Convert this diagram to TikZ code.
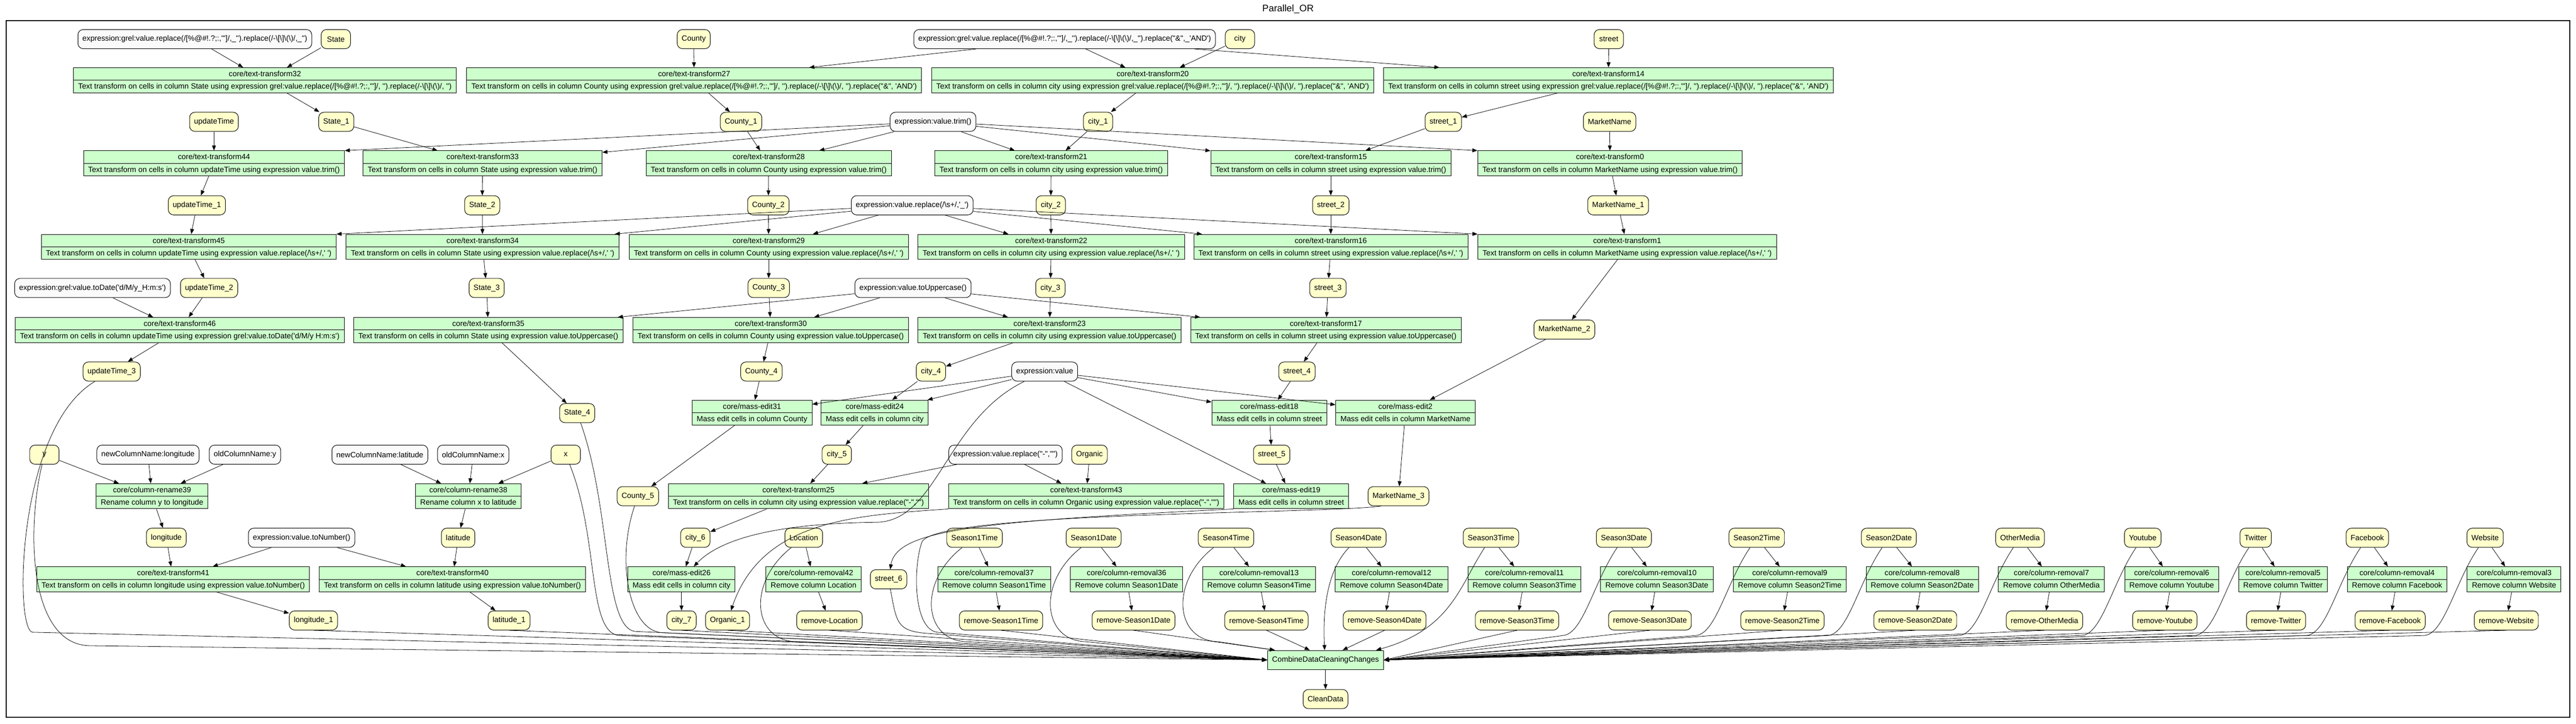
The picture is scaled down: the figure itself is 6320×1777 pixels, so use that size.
\documentclass[tikz,border=0pt]{standalone}
\usepackage{fontspec}
\newfontfamily\gvfont{Liberation Sans}
\usetikzlibrary{arrows.meta,shapes.multipart}

\definecolor{colfill}{HTML}{FFFFCC}
\definecolor{stepfill}{HTML}{CCFFCC}
\definecolor{parfill}{HTML}{FAFAFA}

\newcommand{\rowstrut}{\rule[-1.75mm]{0pt}{5.9mm}}
\newcommand{\grelclean}{grel:value.replace(/[\%@\#!.?;:,'"]/, '').replace(/-\textbackslash[\textbackslash]\textbackslash(\textbackslash)/, '')}
\newcommand{\grelamp}{.replace("\&", 'AND')}
\newcommand{\grelparam}{expression:grel:value.replace(/[\%@\#!.?;:,'"]/,\_'').replace(/-\textbackslash[\textbackslash]\textbackslash(\textbackslash)/,\_'')}
\newcommand{\grelampparam}{.replace("\&",\_'AND')}

\tikzset{
  colnode/.style={draw, rounded corners=2.6mm, fill=colfill, line width=0.25mm,
    minimum height=9.4mm, minimum width=14.4mm, inner xsep=2.2mm,
    font=\gvfont\fontsize{10.6}{12.7}\selectfont},
  paramnode/.style={colnode, fill=parfill},
  stepbox/.style={draw, rectangle split, rectangle split parts=2, fill=stepfill,
    line width=0.25mm, inner xsep=2.3mm, inner ysep=0pt,
    font=\gvfont\fontsize{10.6}{12.7}\selectfont},
  mergebox/.style={draw, fill=stepfill, line width=0.25mm, minimum height=9.4mm,
    inner xsep=2.3mm, font=\gvfont\fontsize{10.6}{12.7}\selectfont},
  flow/.style={-{Triangle[length=2.5mm,width=1.9mm]}, line width=0.2mm}
}

\begin{document}
\begin{tikzpicture}[x=0.2mm, y=-0.2mm]
    \useasboundingbox (0,0) rectangle (6320,1777);
    \node[font=\gvfont\fontsize{13.3}{16}\selectfont] (title) at (3160,22) {Parallel\_OR};
    \draw[line width=0.5mm] (15,50) rectangle (6305,1761);

    % punctuation clean-up
    \node[paramnode] (pclean) at (478,96) {\grelparam};
    \node[colnode] (state) at (824,96) {State};
    \node[colnode] (county) at (1702,96) {County};
    \node[paramnode] (pcleanamp) at (2612,96) {\grelparam\grelampparam};
    \node[colnode] (city) at (3042,96) {city};
    \node[colnode] (street) at (3947,96) {street};
    \node[stepbox] (tt32) at (650,197) {\rowstrut core/text-transform32\nodepart{two}\rowstrut Text transform on cells in column State using expression \grelclean};
    \node[stepbox] (tt27) at (1703,197) {\rowstrut core/text-transform27\nodepart{two}\rowstrut Text transform on cells in column County using expression \grelclean\grelamp};
    \node[stepbox] (tt20) at (2828,197) {\rowstrut core/text-transform20\nodepart{two}\rowstrut Text transform on cells in column city using expression \grelclean\grelamp};
    \node[stepbox] (tt14) at (3946,197) {\rowstrut core/text-transform14\nodepart{two}\rowstrut Text transform on cells in column street using expression \grelclean\grelamp};

    % trim
    \node[colnode] (updatetime) at (525,299) {updateTime};
    \node[colnode] (state1) at (825,299) {State\_1};
    \node[colnode] (county1) at (1818,299) {County\_1};
    \node[paramnode] (ptrim) at (2289,299) {expression:value.trim()};
    \node[colnode] (city1) at (2694,299) {city\_1};
    \node[colnode] (street1) at (3541,299) {street\_1};
    \node[colnode] (marketname) at (3949,299) {MarketName};
    \node[stepbox] (tt44) at (525,401) {\rowstrut core/text-transform44\nodepart{two}\rowstrut Text transform on cells in column updateTime using expression value.trim()};
    \node[stepbox] (tt33) at (1184,401) {\rowstrut core/text-transform33\nodepart{two}\rowstrut Text transform on cells in column State using expression value.trim()};
    \node[stepbox] (tt28) at (1886,401) {\rowstrut core/text-transform28\nodepart{two}\rowstrut Text transform on cells in column County using expression value.trim()};
    \node[stepbox] (tt21) at (2579,401) {\rowstrut core/text-transform21\nodepart{two}\rowstrut Text transform on cells in column city using expression value.trim()};
    \node[stepbox] (tt15) at (3265,401) {\rowstrut core/text-transform15\nodepart{two}\rowstrut Text transform on cells in column street using expression value.trim()};
    \node[stepbox] (tt0) at (3950,401) {\rowstrut core/text-transform0\nodepart{two}\rowstrut Text transform on cells in column MarketName using expression value.trim()};

    % collapse whitespace
    \node[colnode] (updatetime1) at (483,504) {updateTime\_1};
    \node[colnode] (state2) at (1183,504) {State\_2};
    \node[colnode] (county2) at (1885,504) {County\_2};
    \node[paramnode] (pspace) at (2238,504) {expression:value.replace(/\textbackslash s+/,'\_')};
    \node[colnode] (city2) at (2578,504) {city\_2};
    \node[colnode] (street2) at (3265,504) {street\_2};
    \node[colnode] (marketname1) at (3970,504) {MarketName\_1};
    \node[stepbox] (tt45) at (463,606) {\rowstrut core/text-transform45\nodepart{two}\rowstrut Text transform on cells in column updateTime using expression value.replace(/\textbackslash s+/,' ')};
    \node[stepbox] (tt34) at (1184,606) {\rowstrut core/text-transform34\nodepart{two}\rowstrut Text transform on cells in column State using expression value.replace(/\textbackslash s+/,' ')};
    \node[stepbox] (tt29) at (1886,606) {\rowstrut core/text-transform29\nodepart{two}\rowstrut Text transform on cells in column County using expression value.replace(/\textbackslash s+/,' ')};
    \node[stepbox] (tt22) at (2579,606) {\rowstrut core/text-transform22\nodepart{two}\rowstrut Text transform on cells in column city using expression value.replace(/\textbackslash s+/,' ')};
    \node[stepbox] (tt16) at (3265,606) {\rowstrut core/text-transform16\nodepart{two}\rowstrut Text transform on cells in column street using expression value.replace(/\textbackslash s+/,' ')};
    \node[stepbox] (tt1) at (3992,606) {\rowstrut core/text-transform1\nodepart{two}\rowstrut Text transform on cells in column MarketName using expression value.replace(/\textbackslash s+/,' ')};

    % dates and upper case
    \node[paramnode] (pdate) at (227,707) {expression:grel:value.toDate('d/M/y\_H:m:s')};
    \node[colnode] (updatetime2) at (513,707) {updateTime\_2};
    \node[colnode] (state3) at (1194,707) {State\_3};
    \node[colnode] (county3) at (1886,707) {County\_3};
    \node[paramnode] (pupper) at (2240,707) {expression:value.toUppercase()};
    \node[colnode] (city3) at (2577,707) {city\_3};
    \node[colnode] (street3) at (3258,707) {street\_3};
    \node[stepbox] (tt46) at (441,810) {\rowstrut core/text-transform46\nodepart{two}\rowstrut Text transform on cells in column updateTime using expression grel:value.toDate('d/M/y H:m:s')};
    \node[stepbox] (tt35) at (1198,810) {\rowstrut core/text-transform35\nodepart{two}\rowstrut Text transform on cells in column State using expression value.toUppercase()};
    \node[stepbox] (tt30) at (1891,810) {\rowstrut core/text-transform30\nodepart{two}\rowstrut Text transform on cells in column County using expression value.toUppercase()};
    \node[stepbox] (tt23) at (2575,810) {\rowstrut core/text-transform23\nodepart{two}\rowstrut Text transform on cells in column city using expression value.toUppercase()};
    \node[stepbox] (tt17) at (3253,810) {\rowstrut core/text-transform17\nodepart{two}\rowstrut Text transform on cells in column street using expression value.toUppercase()};
    \node[colnode] (marketname2) at (3838,809) {MarketName\_2};

    % mass edits
    \node[colnode] (updatetime3) at (274,912) {updateTime\_3};
    \node[colnode] (county4) at (1868,912) {County\_4};
    \node[colnode] (city4) at (2284,912) {city\_4};
    \node[paramnode] (pvalue) at (2563,912) {expression:value};
    \node[colnode] (street4) at (3182,912) {street\_4};
    \node[colnode] (state4) at (1416,1014) {State\_4};
    \node[stepbox] (me31) at (1845,1013) {\rowstrut core/mass-edit31\nodepart{two}\rowstrut Mass edit cells in column County};
    \node[stepbox] (me24) at (2146,1013) {\rowstrut core/mass-edit24\nodepart{two}\rowstrut Mass edit cells in column city};
    \node[stepbox] (me18) at (3114,1013) {\rowstrut core/mass-edit18\nodepart{two}\rowstrut Mass edit cells in column street};
    \node[stepbox] (me2) at (3448,1013) {\rowstrut core/mass-edit2\nodepart{two}\rowstrut Mass edit cells in column MarketName};

    % renames and dashes
    \node[colnode] (coly) at (109,1116) {y};
    \node[paramnode] (pnewlon) at (363,1116) {newColumnName:longitude};
    \node[paramnode] (poldy) at (601,1116) {oldColumnName:y};
    \node[paramnode] (pnewlat) at (932,1116) {newColumnName:latitude};
    \node[paramnode] (poldx) at (1161,1116) {oldColumnName:x};
    \node[colnode] (colx) at (1388,1116) {x};
    \node[colnode] (city5) at (2053,1116) {city\_5};
    \node[paramnode] (pdash) at (2467,1116) {expression:value.replace("-","")};
    \node[colnode] (organic) at (2673,1116) {Organic};
    \node[colnode] (street5) at (3120,1116) {street\_5};
    \node[stepbox] (cr39) at (373,1218) {\rowstrut core/column-rename39\nodepart{two}\rowstrut Rename column y to longitude};
    \node[stepbox] (cr38) at (1149,1218) {\rowstrut core/column-rename38\nodepart{two}\rowstrut Rename column x to latitude};
    \node[colnode] (county5) at (1565,1218) {County\_5};
    \node[stepbox] (tt25) at (1959,1218) {\rowstrut core/text-transform25\nodepart{two}\rowstrut Text transform on cells in column city using expression value.replace("-","")};
    \node[stepbox] (tt43) at (2665,1218) {\rowstrut core/text-transform43\nodepart{two}\rowstrut Text transform on cells in column Organic using expression value.replace("-","")};
    \node[stepbox] (me19) at (3168,1218) {\rowstrut core/mass-edit19\nodepart{two}\rowstrut Mass edit cells in column street};
    \node[colnode] (marketname3) at (3431,1218) {MarketName\_3};

    % numbers
    \node[colnode] (longitude) at (408,1320) {longitude};
    \node[paramnode] (pnum) at (740,1320) {expression:value.toNumber()};
    \node[colnode] (latitude) at (1124,1320) {latitude};
    \node[colnode] (city6) at (1706,1320) {city\_6};
    \node[stepbox] (tt41) at (425,1422) {\rowstrut core/text-transform41\nodepart{two}\rowstrut Text transform on cells in column longitude using expression value.toNumber()};
    \node[stepbox] (tt40) at (1110,1422) {\rowstrut core/text-transform40\nodepart{two}\rowstrut Text transform on cells in column latitude using expression value.toNumber()};
    \node[stepbox] (me26) at (1672,1422) {\rowstrut core/mass-edit26\nodepart{two}\rowstrut Mass edit cells in column city};
    \node[colnode] (street6) at (2180,1422) {street\_6};
    \node[colnode] (longitude1) at (769,1523) {longitude\_1};
    \node[colnode] (latitude1) at (1249,1523) {latitude\_1};
    \node[colnode] (city7) at (1672,1523) {city\_7};
    \node[colnode] (organic1) at (1785,1523) {Organic\_1};

    % merge
    \node[mergebox] (comb) at (3252,1620) {CombineDataCleaningChanges};
    \node[colnode] (cleandata) at (3252,1716) {CleanData};
    \draw[flow] (comb) -- (cleandata);

    % column removals
    \foreach \col/\num/\cx/\bx/\rx/\tb in {Location/42/1972/1996/2035/180,
        Season1Time/37/2391/2439/2456/180, Season1Date/36/2683/2764/2781/169,
        Season4Time/13/3008/3089/3107/148, Season4Date/12/3333/3414/3397/30,
        Season3Time/11/3658/3740/3722/0, Season3Date/10/3984/4065/4048/0,
        Season2Time/9/4310/4391/4373/0, Season2Date/8/4634/4716/4699/0,
        OtherMedia/7/4956/5033/5016/0, Youtube/6/5257/5328/5311/0,
        Twitter/5/5534/5601/5584/0, Facebook/4/5808/5881/5864/0,
        Website/3/6097/6168/6149/0}{
        \node[colnode] (col\num) at (\cx,1320) {\col};
        \node[stepbox] (crm\num) at (\bx,1422) {\rowstrut core/column-removal\num\nodepart{two}\rowstrut Remove column \col};
        \node[colnode] (rm\num) at (\rx,1523) {remove-\col};
        \draw[flow] (col\num) -- (crm\num);
        \draw[flow] (crm\num) -- (rm\num);
        \draw[flow] (rm\num.south) -- (comb.\tb);
    }
    \foreach \num/\cx/\ta in {42/1972/180, 37/2391/180, 36/2683/180, 13/3008/169}
        \draw[flow] (col\num) .. controls (\cx-140,1430) and (\cx-125,1572) .. (\cx-20,1575) -- (comb.\ta);
    \foreach \num/\cx in {10/3984, 9/4310, 8/4634, 7/4956, 6/5257, 5/5534, 4/5808, 3/6097}
        \draw[flow] (col\num) .. controls (\cx-75,1430) and (\cx-100,1557) .. (\cx-150,1560) -- (comb.east);
    \draw[flow] (col12) .. controls (3255,1400) and (3245,1500) .. (comb.95);
    \draw[flow] (col11) .. controls (3580,1440) and (3560,1545) .. (comb.11);

    \draw[flow] (pclean) -- (tt32);
    \draw[flow] (state) -- (tt32);
    \draw[flow] (county) -- (tt27);
    \draw[flow] (pcleanamp) -- (tt27);
    \draw[flow] (pcleanamp) -- (tt20);
    \draw[flow] (city) -- (tt20);
    \draw[flow] (pcleanamp) -- (tt14);
    \draw[flow] (street) -- (tt14);
    \draw[flow] (tt32) -- (state1);
    \draw[flow] (tt27) -- (county1);
    \draw[flow] (tt20) -- (city1);
    \draw[flow] (tt14) -- (street1);

    \draw[flow] (updatetime) -- (tt44);
    \draw[flow] (ptrim) -- (tt44.north east);
    \draw[flow] (state1) -- (tt33);
    \draw[flow] (ptrim) -- (tt33);
    \draw[flow] (county1) -- (tt28);
    \draw[flow] (ptrim) -- (tt28);
    \draw[flow] (ptrim) -- (tt21);
    \draw[flow] (city1) -- (tt21);
    \draw[flow] (ptrim) -- (tt15);
    \draw[flow] (street1) -- (tt15);
    \draw[flow] (ptrim) -- (tt0.north west);
    \draw[flow] (marketname) -- (tt0);
    \draw[flow] (tt44) -- (updatetime1);
    \draw[flow] (tt33) -- (state2);
    \draw[flow] (tt28) -- (county2);
    \draw[flow] (tt21) -- (city2);
    \draw[flow] (tt15) -- (street2);
    \draw[flow] (tt0) -- (marketname1);

    \draw[flow] (updatetime1) -- (tt45);
    \draw[flow] (pspace) -- (tt45.north east);
    \draw[flow] (state2) -- (tt34);
    \draw[flow] (pspace) -- (tt34);
    \draw[flow] (county2) -- (tt29);
    \draw[flow] (pspace) -- (tt29);
    \draw[flow] (pspace) -- (tt22);
    \draw[flow] (city2) -- (tt22);
    \draw[flow] (pspace) -- (tt16);
    \draw[flow] (street2) -- (tt16);
    \draw[flow] (pspace) -- (tt1.north west);
    \draw[flow] (marketname1) -- (tt1);
    \draw[flow] (tt45) -- (updatetime2);
    \draw[flow] (tt34) -- (state3);
    \draw[flow] (tt29) -- (county3);
    \draw[flow] (tt22) -- (city3);
    \draw[flow] (tt16) -- (street3);
    \draw[flow] (tt1) -- (marketname2);

    \draw[flow] (pdate) -- (tt46);
    \draw[flow] (updatetime2) -- (tt46);
    \draw[flow] (state3) -- (tt35);
    \draw[flow] (pupper) -- (tt35);
    \draw[flow] (county3) -- (tt30);
    \draw[flow] (pupper) -- (tt30);
    \draw[flow] (pupper) -- (tt23);
    \draw[flow] (city3) -- (tt23);
    \draw[flow] (pupper) -- (tt17);
    \draw[flow] (street3) -- (tt17);
    \draw[flow] (tt46) -- (updatetime3);
    \draw[flow] (tt35) -- (state4);
    \draw[flow] (tt30) -- (county4);
    \draw[flow] (tt23) -- (city4);
    \draw[flow] (tt17) -- (street4);

    \draw[flow] (county4) -- (me31);
    \draw[flow] (pvalue) -- (me31);
    \draw[flow] (city4) -- (me24);
    \draw[flow] (pvalue) -- (me24);
    \draw[flow] (pvalue) -- (me18);
    \draw[flow] (street4) -- (me18);
    \draw[flow] (pvalue) -- (me2);
    \draw[flow] (marketname2) -- (me2);
    \draw[flow] (me31) -- (county5);
    \draw[flow] (me24) -- (city5);
    \draw[flow] (me18) -- (street5);
    \draw[flow] (me2) -- (marketname3);

    \draw[flow] (coly) -- (cr39);
    \draw[flow] (pnewlon) -- (cr39);
    \draw[flow] (poldy) -- (cr39);
    \draw[flow] (pnewlat) -- (cr38);
    \draw[flow] (poldx) -- (cr38);
    \draw[flow] (colx) -- (cr38);
    \draw[flow] (city5) -- (tt25);
    \draw[flow] (pdash) -- (tt25);
    \draw[flow] (pdash) -- (tt43);
    \draw[flow] (organic) -- (tt43);
    \draw[flow] (pvalue) -- (me19);
    \draw[flow] (street5) -- (me19);
    \draw[flow] (cr39) -- (longitude);
    \draw[flow] (cr38) -- (latitude);
    \draw[flow] (tt25) -- (city6);
    \draw[flow] (tt43.south west) .. controls (2100,1265) and (1870,1275) .. (organic1);
    \draw[flow] (me19.south west) .. controls (2400,1280) and (2200,1300) .. (street6);
    \draw[flow] (pvalue) .. controls (2320,1030) and (2300,1280) .. (2150,1282) .. controls (1880,1285) and (1760,1330) .. (me26);

    \draw[flow] (longitude) -- (tt41);
    \draw[flow] (pnum) -- (tt41);
    \draw[flow] (pnum) -- (tt40);
    \draw[flow] (latitude) -- (tt40);
    \draw[flow] (city6) -- (me26);
    \draw[flow] (tt41) -- (longitude1);
    \draw[flow] (tt40) -- (latitude1);
    \draw[flow] (me26) -- (city7);

    % everything left over goes into the merge
    \draw[flow] (updatetime3) .. controls (40,1050) and (35,1548) .. (80,1552) -- (comb.west);
    \draw[flow] (coly) .. controls (65,1300) and (70,1582) .. (220,1585) -- (comb.west);
    \draw[flow] (longitude1.south) -- (comb.west);
    \draw[flow] (latitude1.south) -- (comb.west);
    \draw[flow] (colx) .. controls (1470,1320) and (1440,1555) .. (1520,1560) -- (comb.west);
    \draw[flow] (state4) .. controls (1500,1250) and (1480,1545) .. (1560,1550) -- (comb.west);
    \draw[flow] (county5) .. controls (1510,1380) and (1545,1550) .. (1625,1553) -- (comb.west);
    \draw[flow] (city7.south) -- (comb.west);
    \draw[flow] (organic1.south) -- (comb.west);
    \draw[flow] (street6) .. controls (2200,1530) and (2200,1550) .. (2280,1555) -- (comb.west);
    \draw[flow] (marketname3.210) .. controls (3250,1262) and (2300,1255) .. (2262,1330) .. controls (2240,1390) and (2240,1545) .. (2300,1552) -- (comb.west);
\end{tikzpicture}
\end{document}
